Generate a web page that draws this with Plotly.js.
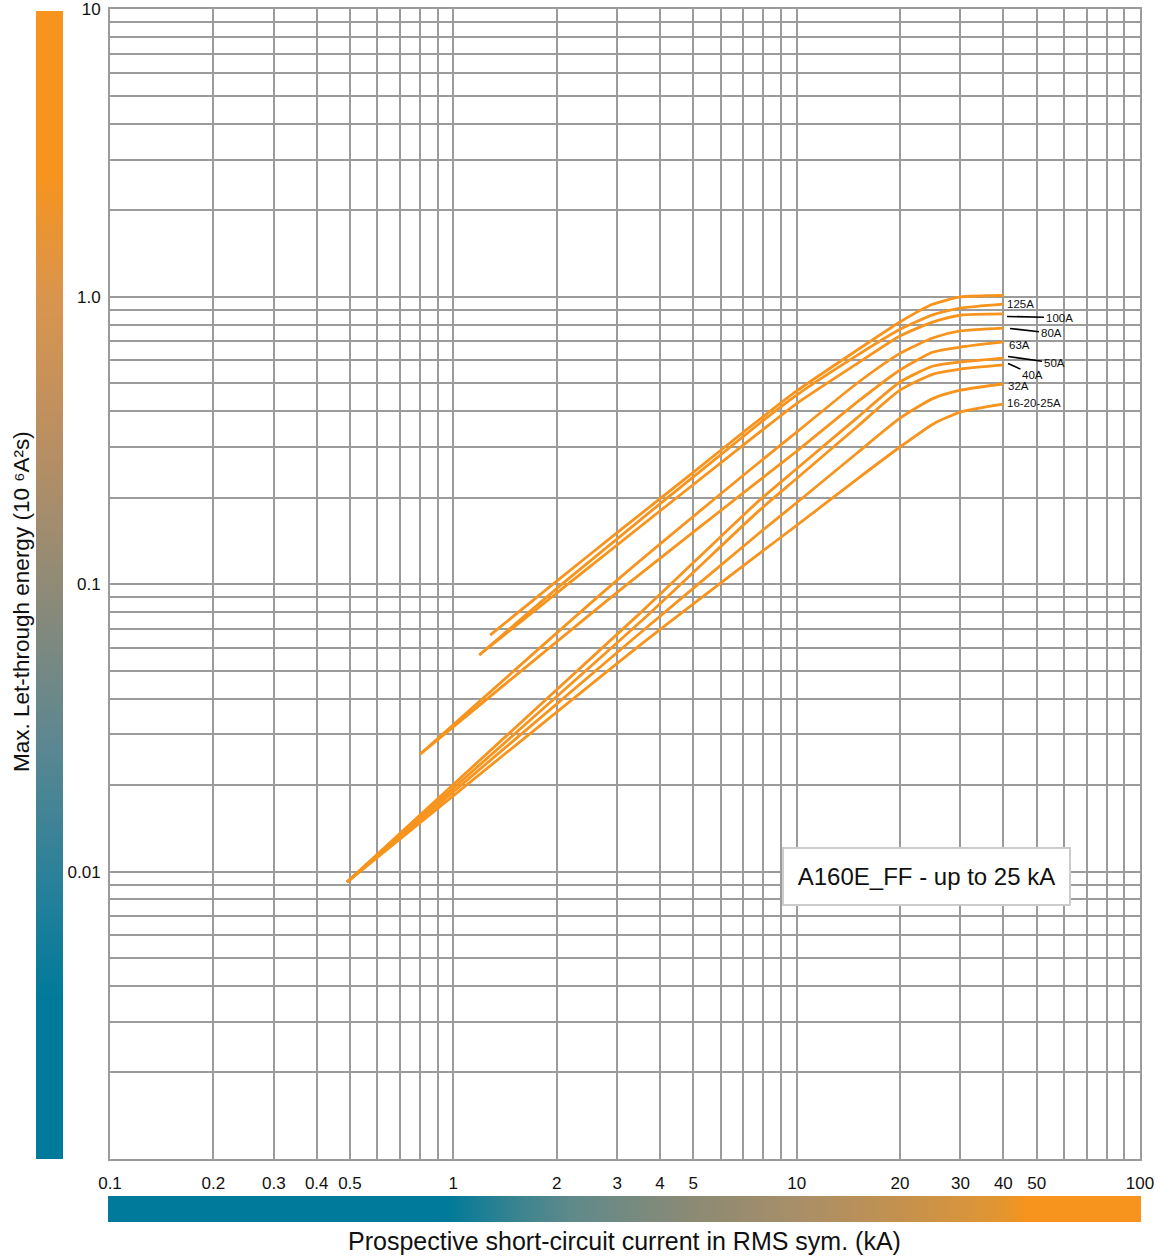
<!DOCTYPE html>
<html>
<head>
<meta charset="utf-8">
<script src="https://cdn.plot.ly/plotly-3.0.1.min.js"></script>
<style>
html,body{margin:0;padding:0;background:#fff;}
#chart{width:1161px;height:1259px;}
</style>
</head>
<body>
<div id="chart"></div>
<script>
// ---- Data (kA, 10^6 A²s) ----
const curve160X = [1.28, 2, 3, 5, 7, 10, 15, 20, 25, 30, 40];
const curve160Y = [0.0665, 0.1025, 0.151, 0.245, 0.338, 0.47, 0.652, 0.817, 0.943, 0.998, 1.01];

const curve125X = [1.19, 2.14, 7.8, 10, 15, 20, 25, 30, 40];
const curve125Y = [0.0567, 0.1033, 0.363, 0.455, 0.625, 0.770, 0.866, 0.913, 0.943];

const curve100X = [1.19, 2.23, 7.8, 10, 15, 20, 25, 30, 40];
const curve100Y = [0.0567, 0.1033, 0.338, 0.425, 0.585, 0.730, 0.817, 0.862, 0.871];

const curve80X = [0.8, 3, 7.8, 10, 15, 20, 25, 30, 40];
const curve80Y = [0.0256, 0.1033, 0.266, 0.338, 0.50, 0.635, 0.72, 0.76, 0.778];

const curve63X = [0.8, 3.16, 7.8, 10, 15, 20, 25, 30, 40];
const curve63Y = [0.0256, 0.0985, 0.230, 0.290, 0.43, 0.556, 0.642, 0.668, 0.696];

const curveLowX = [0.49, 3.5, 7.8, 10, 15, 20, 25, 30, 40];
const curve50Y = [0.00919, 0.0793, 0.196, 0.252, 0.379, 0.505, 0.574, 0.593, 0.612];
const curve40Y = [0.00919, 0.0738, 0.181, 0.233, 0.353, 0.473, 0.538, 0.560, 0.579];
const curve32Y = [0.00919, 0.0676, 0.151, 0.192, 0.286, 0.378, 0.443, 0.473, 0.497];
const curve16Y = [0.00919, 0.0614, 0.128, 0.160, 0.232, 0.300, 0.361, 0.397, 0.423];

const xTickVals = [0.1,0.2,0.3,0.4,0.5,0.6,0.7,0.8,0.9,1,2,3,4,5,6,7,8,9,10,20,30,40,50,60,70,80,90,100];
const xTickText = ['0.1','0.2','0.3','0.4','0.5','','','','','1','2','3','4','5','','','','','10','20','30','40','50','','','','','100'];
const yTickVals = [0.001,0.002,0.003,0.004,0.005,0.006,0.007,0.008,0.009,
                   0.01,0.02,0.03,0.04,0.05,0.06,0.07,0.08,0.09,
                   0.1,0.2,0.3,0.4,0.5,0.6,0.7,0.8,0.9,
                   1,2,3,4,5,6,7,8,9,10];
const yTickText = ['','','','','','','','','',
                   '0.01','','','','','','','','',
                   '0.1','','','','','','','','',
                   '1.0','','','','','','','','','10'];

const seriesList = [
  {name:'160A', x:curve160X, y:curve160Y},
  {name:'125A', x:curve125X, y:curve125Y},
  {name:'100A', x:curve100X, y:curve100Y},
  {name:'80A',  x:curve80X,  y:curve80Y},
  {name:'63A',  x:curve63X,  y:curve63Y},
  {name:'50A',  x:curveLowX, y:curve50Y},
  {name:'40A',  x:curveLowX, y:curve40Y},
  {name:'32A',  x:curveLowX, y:curve32Y},
  {name:'16-20-25A', x:curveLowX, y:curve16Y}
];

// ---- Layout helpers (pixel -> paper) ----
const W = 1161, H = 1259;
const px = v => v / W;
const py = v => 1 - v / H;
const ORANGE = '#f7941d';
const TEAL = '#007a9a';
const FONT = 'Liberation Sans, Arial, Helvetica, sans-serif';

const traces = seriesList.map(s => ({
  type:'scatter', mode:'lines', name:s.name, x:s.x, y:s.y,
  line:{color:ORANGE, width:2.8, shape:'spline', smoothing:0.6},
  hoverinfo:'x+y+name', showlegend:false
}));

function gradientSvg(w, h, vertical, stops) {
  const st = stops.map(s => `<stop offset='${s[0]}' stop-color='${s[1]}'/>`).join('');
  const coords = vertical ? "x1='0' y1='0' x2='0' y2='1'" : "x1='0' y1='0' x2='1' y2='0'";
  const svg = `<svg xmlns='http://www.w3.org/2000/svg' width='${w}' height='${h}' viewBox='0 0 ${w} ${h}' preserveAspectRatio='none'><defs><linearGradient id='g' ${coords}>${st}</linearGradient></defs><rect x='0' y='0' width='${w}' height='${h}' fill='url(#g)'/></svg>`;
  return 'data:image/svg+xml;charset=utf-8,' + encodeURIComponent(svg);
}

const hStops = [[0,TEAL],[0.328,TEAL],[0.40,'#3d848f'],[0.45,'#5f8a8a'],[0.53,'#7f8a7c'],
                [0.575,'#8e8a73'],[0.67,'#a98f69'],[0.765,'#c3914f'],[0.825,'#d6943f'],
                [0.865,'#e3952f'],[0.889,ORANGE],[1,ORANGE]];
const vStops = [[0,ORANGE],[0.14,ORANGE],[0.25,'#d9954e'],[0.38,'#b88f63'],[0.51,'#8c8a78'],
                [0.64,'#5b8791'],[0.77,'#24809a'],[0.86,TEAL],[1,TEAL]];

const labelFont = {family:FONT, size:11.5, color:'#111'};
const annotations = [
  {xref:'paper', yref:'paper', x:px(624), y:py(1241), xanchor:'center', yanchor:'middle',
   text:'Prospective short-circuit current in RMS sym. (kA)', showarrow:false,
   font:{family:FONT, size:25, color:'#111'}},
  {xref:'paper', yref:'paper', x:px(21), y:py(602), xanchor:'center', yanchor:'middle', textangle:-90,
   text:'Max. Let-through energy (10 \u2076A\u00b2s)', showarrow:false,
   font:{family:FONT, size:22.5, color:'#111'}},
  {xref:'paper', yref:'paper', x:px(926.5), y:py(876.5), xanchor:'center', yanchor:'middle',
   text:'A160E_FF - up to 25 kA', showarrow:false, bgcolor:'#ffffff', bordercolor:'#cccccc',
   borderwidth:2, borderpad:1, width:283, height:53,
   font:{family:FONT, size:24, color:'#111'}},
  // curve labels
  {xref:'paper', yref:'paper', x:px(1005), y:py(303.5), xanchor:'left', yanchor:'middle', text:'125A', showarrow:false, font:labelFont},
  {xref:'paper', yref:'paper', x:px(1007), y:py(345), xanchor:'left', yanchor:'middle', text:'63A', showarrow:false, font:labelFont},
  {xref:'paper', yref:'paper', x:px(1006), y:py(385.5), xanchor:'left', yanchor:'middle', text:'32A', showarrow:false, font:labelFont},
  {xref:'paper', yref:'paper', x:px(1005), y:py(402.5), xanchor:'left', yanchor:'middle', text:'16-20-25A', showarrow:false, font:labelFont},
  {xref:'paper', yref:'paper', x:px(1007), y:py(316.5), ax:52, ay:1, axref:'pixel', ayref:'pixel', text:'100A',
   showarrow:true, arrowhead:0, arrowwidth:1.6, arrowcolor:'#000', font:labelFont},
  {xref:'paper', yref:'paper', x:px(1010), y:py(328.5), ax:41, ay:4.5, axref:'pixel', ayref:'pixel', text:'80A',
   showarrow:true, arrowhead:0, arrowwidth:1.6, arrowcolor:'#000', font:labelFont},
  {xref:'paper', yref:'paper', x:px(1008), y:py(356.5), ax:46, ay:6.5, axref:'pixel', ayref:'pixel', text:'50A',
   showarrow:true, arrowhead:0, arrowwidth:1.6, arrowcolor:'#000', font:labelFont},
  {xref:'paper', yref:'paper', x:px(1008), y:py(363.5), ax:24.5, ay:11, axref:'pixel', ayref:'pixel', text:'40A',
   showarrow:true, arrowhead:0, arrowwidth:1.6, arrowcolor:'#000', font:labelFont}
];

const images = [
  {source:gradientSvg(1033, 26, false, hStops), xref:'paper', yref:'paper',
   x:px(108), y:py(1196), sizex:1033/W, sizey:26/H, xanchor:'left', yanchor:'top',
   sizing:'stretch', layer:'below'},
  {source:gradientSvg(27, 1148, true, vStops), xref:'paper', yref:'paper',
   x:px(36), y:py(11), sizex:27/W, sizey:1148/H, xanchor:'left', yanchor:'top',
   sizing:'stretch', layer:'below'}
];

const gridColor = '#9b9b9b';
const layout = {
  width:W, height:H,
  margin:{l:0, r:0, t:0, b:0},
  paper_bgcolor:'#ffffff', plot_bgcolor:'#ffffff',
  font:{family:FONT, color:'#111'},
  showlegend:false,
  xaxis:{
    type:'log', range:[-1, 2], domain:[px(110), px(1140)],
    tickmode:'array', tickvals:xTickVals, ticktext:xTickText,
    showgrid:true, gridcolor:gridColor, gridwidth:2,
    showline:true, linecolor:gridColor, linewidth:2, mirror:true,
    ticks:'', ticklabelstandoff:8, zeroline:false,
    tickfont:{family:FONT, size:17, color:'#111'}
  },
  yaxis:{
    type:'log', range:[-3, 1], domain:[py(1159), py(9.3)],
    tickmode:'array', tickvals:yTickVals, ticktext:yTickText,
    showgrid:true, gridcolor:gridColor, gridwidth:2,
    showline:true, linecolor:gridColor, linewidth:2, mirror:true,
    ticks:'', ticklabelstandoff:4, zeroline:false,
    tickfont:{family:FONT, size:17, color:'#111'}
  },
  annotations:annotations,
  images:images
};

Plotly.newPlot('chart', traces, layout, {displayModeBar:false, staticPlot:true});
</script>
</body>
</html>
